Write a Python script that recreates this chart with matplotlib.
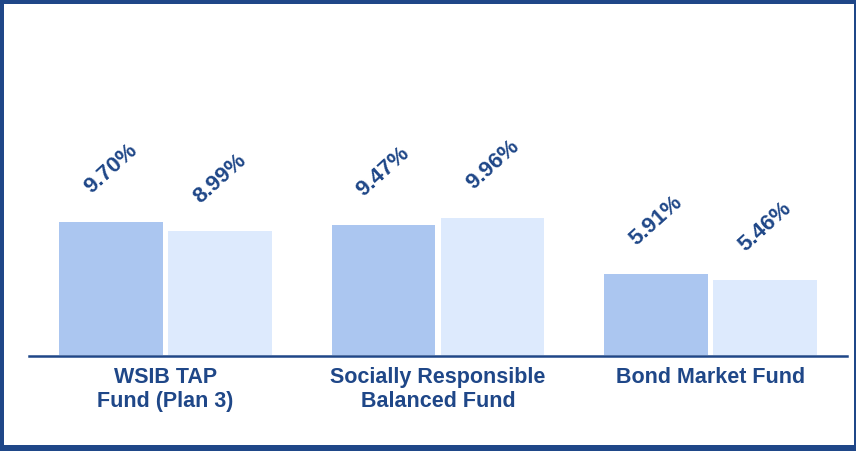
import numpy as np
import matplotlib
matplotlib.use("Agg")
import matplotlib.pyplot as plt
from matplotlib.patches import Rectangle

# data
funds = ["WSIB TAP\nFund (Plan 3)", "Socially Responsible\nBalanced Fund", "Bond Market Fund"]
series_a = [9.70, 9.47, 5.91]
series_b = [8.99, 9.96, 5.46]

navy = "#1F4788"
col_a = "#ABC6F0"
col_b = "#DDEAFD"

plt.rcParams['font.family'] = ['Liberation Sans', 'DejaVu Sans']

fig = plt.figure(figsize=(8.56, 4.52), dpi=100)
W, H = 856, 452

# frame around the figure
fig.patches.append(Rectangle((0, 0), 1, 1, transform=fig.transFigure,
                             facecolor="white", edgecolor="none", zorder=-2))
for (x0, y0, w, h) in [(0, 0, 856, 6), (0, 447, 856, 5), (0, 0, 4, 452), (854, 0, 2, 452)]:
    fig.patches.append(Rectangle((x0 / W, y0 / H), w / W, h / H, transform=fig.transFigure,
                                 facecolor=navy, edgecolor="none", zorder=5))

ax = fig.add_axes([29 / W, (H - 357) / H, 818 / W, 337 / H])

x = np.arange(len(funds))
bw = 0.38
bars_a = ax.bar(x - 0.2, series_a, width=bw, color=col_a)
bars_b = ax.bar(x + 0.2, series_b, width=bw, color=col_b)

for bars, vals in [(bars_a, series_a), (bars_b, series_b)]:
    for b, v in zip(bars, vals):
        ax.annotate(f"{v:.2f}%", (b.get_x() + b.get_width() / 2, v),
                    xytext=(0, 39), textcoords="offset points",
                    ha="center", va="center", rotation=42,
                    fontsize=16, fontweight="bold", color=navy)

ax.set_xlim(-0.5, 2.5)
ax.set_ylim(-0.1, 24.5)
ax.set_yticks([])
ax.set_xticks(x)
ax.set_xticklabels(funds, fontsize=15.5, fontweight="bold", color=navy, linespacing=1.2)
ax.tick_params(axis="x", length=0, pad=7)
for s in ["top", "left", "right"]:
    ax.spines[s].set_visible(False)
ax.spines["bottom"].set_color(navy)
ax.spines["bottom"].set_linewidth(1.8)

fig.savefig("out.png", dpi=100)
